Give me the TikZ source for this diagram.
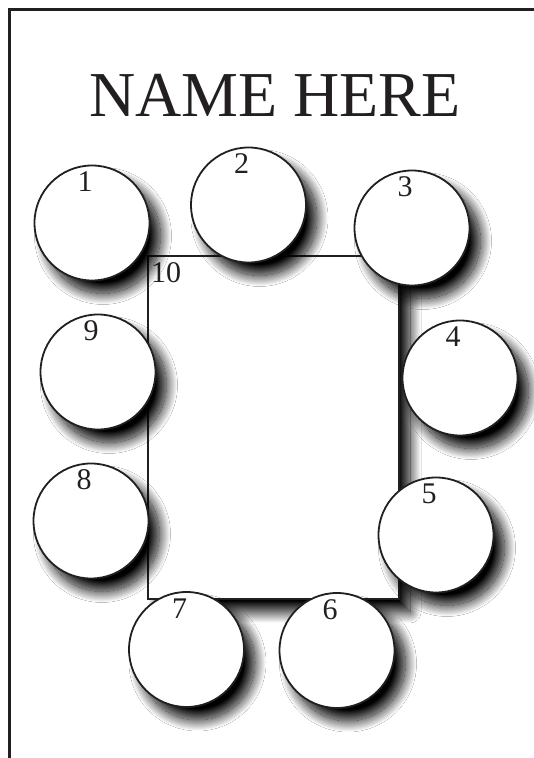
\documentclass[tikz,border=0pt]{standalone}
\usepackage{fontspec}
\setmainfont{Liberation Serif}
\usetikzlibrary{shadows.blur}
\definecolor{ink}{HTML}{231F20}
\tikzset{
  softshadow/.style={blur shadow={shadow xshift=11pt, shadow yshift=-13pt, shadow blur radius=11pt, shadow opacity=100, shadow blur steps=30}},
  seat/.style={circle, draw=ink, line width=1.8pt, fill=white, minimum size=115pt, inner sep=0pt, softshadow},
  tablebox/.style={rectangle, draw=ink, line width=1.8pt, fill=white, minimum width=251pt, minimum height=343pt, inner sep=0pt, softshadow},
  num/.style={font=\fontsize{30}{30}\selectfont, text=ink, anchor=base, inner sep=0pt},
  frameline/.style={draw=ink, line width=3pt}
}
\begin{document}
\begin{tikzpicture}[x=1pt,y=1pt]
\useasboundingbox (0,0) rectangle (534,758);
\fill[white] (0,0) rectangle (534,758);
\coordinate (fa) at (9.5,-10);
\coordinate (fb) at (545,748);
\draw[frameline] (fa) |- (fb);
\node[font=\fontsize{64}{64}\selectfont, text=ink, anchor=base, inner sep=0pt] (title) at (275,641) {NAME HERE};
% table
\node[tablebox] (t10) at (273.5,330.5) {};
\node[num, anchor=base west] (l10) at (151,475) {10};
% seats
\foreach \n/\x/\y in {1/92/535, 2/248.5/553, 3/412/530, 4/460/380, 5/436/223, 6/337/107.5, 7/186.5/108.5, 8/91/237, 9/98/386}{
  \node[seat] (c\n) at (\x,\y) {};
  \node[num] (l\n) at ([shift={(-7pt,31pt)}]c\n.center) {\n};
}
\end{tikzpicture}
\end{document}
